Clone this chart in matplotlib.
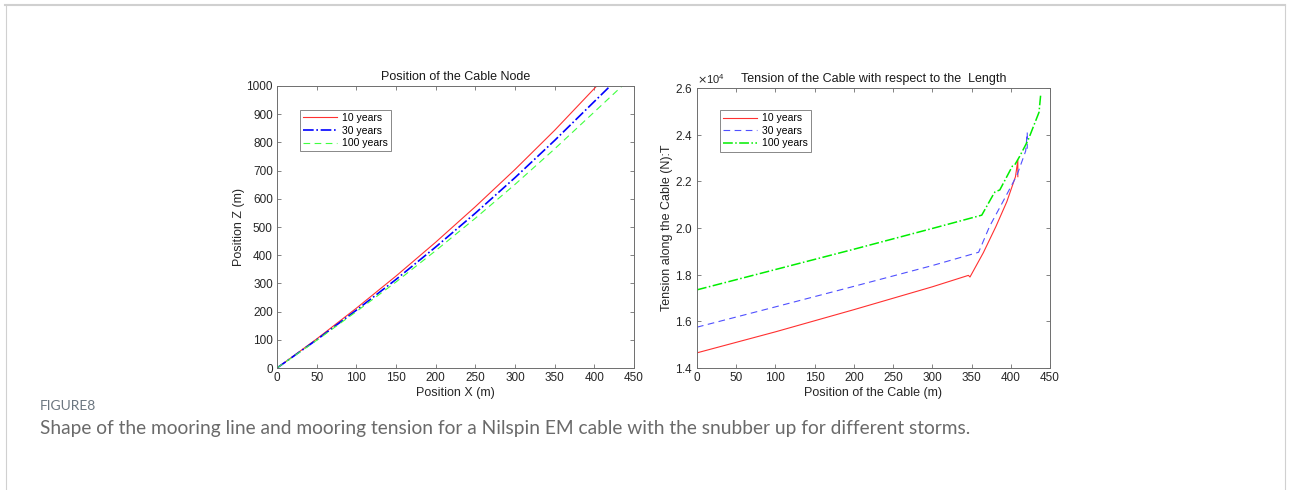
import matplotlib
matplotlib.use('Agg')
import matplotlib.pyplot as plt
from matplotlib.lines import Line2D
from matplotlib.ticker import ScalarFormatter

# left panel: cable node positions
x10 = [0, 50, 100, 150, 200, 250, 300, 350, 403]
z10 = [0, 103, 212, 326, 446, 572, 704, 843, 1000]
x30 = [0, 50, 100, 150, 200, 250, 300, 350, 400, 420]
z30 = [0, 100, 205, 314, 429, 549, 675, 807, 945, 1000]
x100 = [0, 50, 100, 150, 200, 250, 300, 350, 400, 435]
z100 = [0, 98, 200, 305, 416, 531, 651, 777, 908, 1000]

# right panel: tension along the cable
s10 = [0, 100, 200, 300, 346, 348, 365, 381, 395, 406, 409, 409]
t10 = [14650, 15550, 16500, 17480, 17970, 17900, 18940, 20060, 21130, 22200, 22910, 22200]
s30 = [0, 100, 200, 300, 359, 373, 390, 408, 419, 421, 421]
t30 = [15750, 16620, 17500, 18390, 18960, 20070, 21130, 22270, 23300, 24100, 23400]
s100 = [0, 100, 200, 300, 363, 378, 380, 386, 402, 405, 411, 422, 436, 438]
t100 = [17350, 18220, 19090, 19980, 20550, 21450, 21550, 21630, 22650, 22700, 23050, 23760, 24960, 25670]

labels = ['10 years', '30 years', '100 years']

plt.rcParams['font.family'] = ['Liberation Sans', 'DejaVu Sans']
plt.rcParams['axes.edgecolor'] = '#6e6e6e'
plt.rcParams['xtick.color'] = '#6e6e6e'
plt.rcParams['ytick.color'] = '#6e6e6e'
plt.rcParams['xtick.labelcolor'] = '#262626'
plt.rcParams['ytick.labelcolor'] = '#262626'

fig = plt.figure(figsize=(12.9, 4.9), dpi=100)

# page frame
fig.add_artist(Line2D([5/1290, 1285/1290], [1 - 5.5/490, 1 - 5.5/490], color='#d0d0d0', lw=1.5))
fig.add_artist(Line2D([5.5/1290, 5.5/1290], [0, 1 - 5.5/490], color='#d0d0d0', lw=0.8))
fig.add_artist(Line2D([1284.5/1290, 1284.5/1290], [0, 1 - 5.5/490], color='#d0d0d0', lw=0.8))


def style(ax):
    ax.tick_params(direction='in', length=3, width=0.6, labelsize=8.5,
                   top=True, right=True, pad=3)
    for sp in ax.spines.values():
        sp.set_linewidth(0.7)


def add_legend(ax, anchor):
    leg = ax.legend(loc='upper left', bbox_to_anchor=anchor, fontsize=7.5,
                    fancybox=False, framealpha=1, edgecolor='#888888',
                    handlelength=3.3, handletextpad=0.4, borderpad=0.3,
                    labelspacing=0.25, borderaxespad=0)
    leg.get_frame().set_linewidth(0.7)
    return leg


ax1 = fig.add_axes([277/1290, 1 - 368/490, 357/1290, 282/490])
ax1.plot(x10, z10, color='#ff3030', lw=0.8, label=labels[0])
ax1.plot(x30, z30, color='#0000ff', lw=1.2, ls='-.', label=labels[1])
ax1.plot(x100, z100, color='#40ff40', lw=0.8, ls=(0, (6, 4)), label=labels[2])
ax1.set_xlim(0, 450)
ax1.set_ylim(0, 1000)
ax1.set_xticks(range(0, 451, 50))
ax1.set_yticks(range(0, 1001, 100))
ax1.set_title('Position of the Cable Node', fontsize=9, color='#1a1a1a', pad=4)
ax1.set_xlabel('Position X (m)', fontsize=9, color='#262626', labelpad=2)
ax1.set_ylabel('Position Z (m)', fontsize=9, color='#262626', labelpad=1)
style(ax1)
add_legend(ax1, (0.064, 0.915))

ax2 = fig.add_axes([697/1290, 1 - 368/490, 353/1290, 280/490])
ax2.plot(s10, t10, color='#ff3030', lw=0.8, label=labels[0])
ax2.plot(s30, t30, color='#5050ff', lw=0.8, ls=(0, (6, 4)), label=labels[1])
ax2.plot(s100, t100, color='#00ee00', lw=1.1, ls='-.', label=labels[2])
ax2.set_xlim(0, 450)
ax2.set_ylim(14000, 26000)
ax2.set_xticks(range(0, 451, 50))
ax2.set_yticks(range(14000, 26001, 2000))
fmt = ScalarFormatter(useMathText=True)
fmt.set_powerlimits((0, 0))
ax2.yaxis.set_major_formatter(fmt)
ax2.yaxis.get_offset_text().set_fontsize(8)
ax2.yaxis.get_offset_text().set_color('#262626')
ax2.set_title('Tension of the Cable with respect to the  Length', fontsize=9,
              color='#1a1a1a', pad=4)
ax2.set_xlabel('Position of the Cable (m)', fontsize=9, color='#262626', labelpad=2)
ax2.set_ylabel('Tension along the Cable (N):T', fontsize=9, color='#262626', labelpad=1)
style(ax2)
add_legend(ax2, (0.065, 0.921))

fig.text(40/1290, 1 - 406/490, 'FIGURE8', fontsize=10, color='#6b7680',
         family=['Lato', 'DejaVu Sans'], va='center', ha='left')
fig.text(40/1290, 1 - 428/490,
         'Shape of the mooring line and mooring tension for a Nilspin EM cable with the snubber up for different storms.',
         fontsize=13.8, color='#6a6a6a', family=['Lato', 'DejaVu Sans'], va='center', ha='left')

fig.savefig('out.png', dpi=100)
